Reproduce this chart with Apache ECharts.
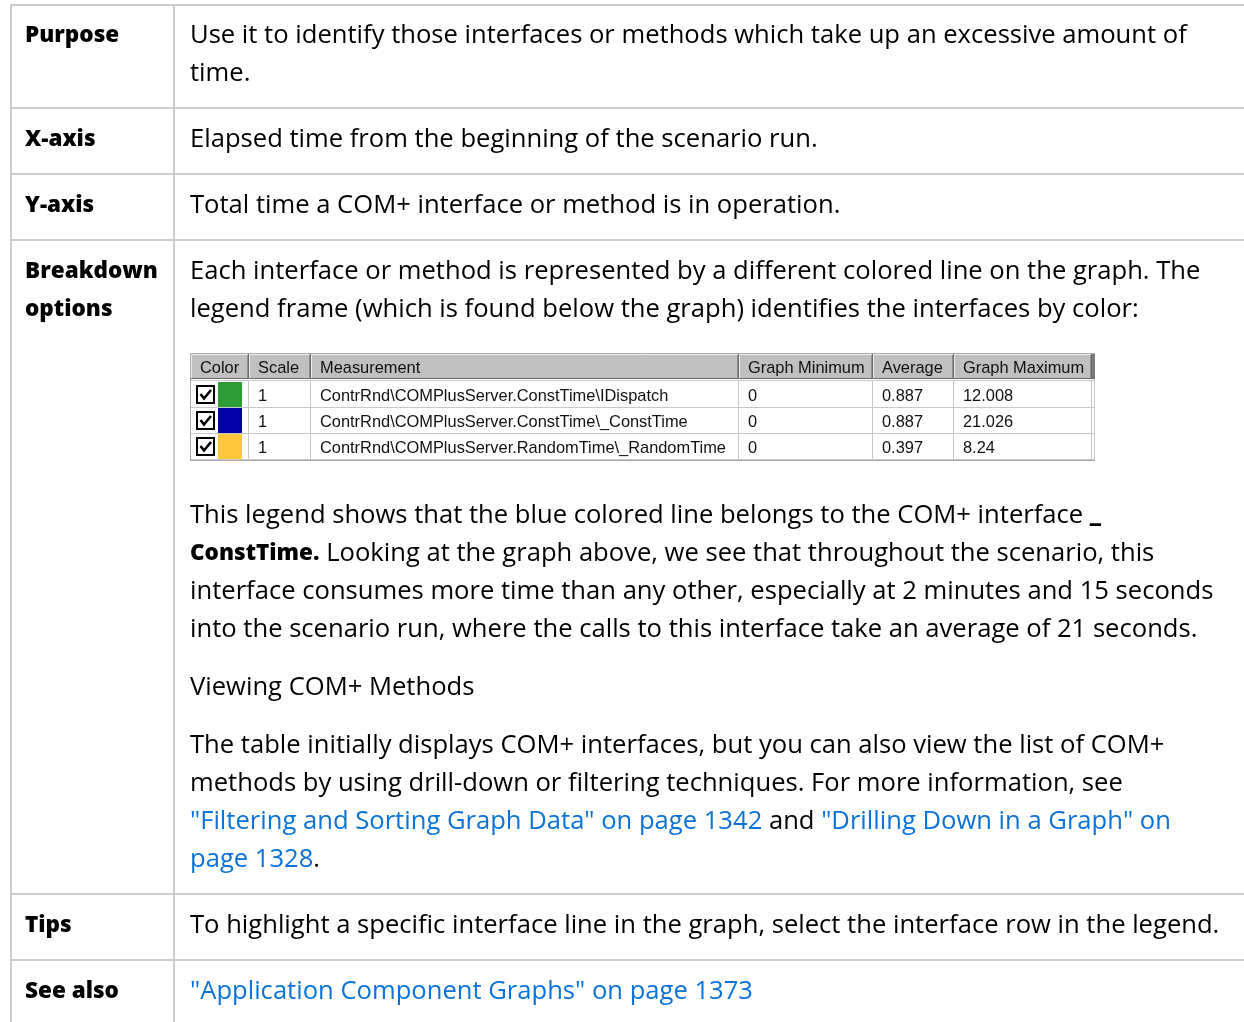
<!DOCTYPE html>
<html><head><meta charset="utf-8">
<script src="https://cdn.jsdelivr.net/npm/echarts@6/dist/echarts.min.js"></script>
<style>html,body{margin:0;padding:0;background:#fff}#c{width:1244px;height:1022px}</style>
</head><body><div id="c"></div>
<script>
// ---------------- data ----------------
const rowLabels = [['Purpose'], ['X-axis'], ['Y-axis'], ['Breakdown', 'options'], ['Tips'], ['See also']];
const legendColumns = ['Color', 'Scale', 'Measurement', 'Graph Minimum', 'Average', 'Graph Maximum'];
const measurements = [
  'ContrRnd\\COMPlusServer.ConstTime\\IDispatch',
  'ContrRnd\\COMPlusServer.ConstTime\\_ConstTime',
  'ContrRnd\\COMPlusServer.RandomTime\\_RandomTime'
];
const scales = [1, 1, 1];
const graphMinimum = [0, 0, 0];
const average = [0.887, 0.887, 0.397];
const graphMaximum = [12.008, 21.026, 8.24];
const seriesColors = ['#2e9c35', '#0000a8', '#ffc83c'];
// text lines per table row: segments [style, text]  n=normal b=bold l=link
const rowText = [
  [[['n', 'Use it to identify those interfaces or methods which take up an excessive amount of']],
   [['n', 'time.']]],
  [[['n', 'Elapsed time from the beginning of the scenario run.']]],
  [[['n', 'Total time a COM+ interface or method is in operation.']]],
  [[['n', 'Each interface or method is represented by a different colored line on the graph. The']],
   [['n', 'legend frame (which is found below the graph) identifies the interfaces by color:']],
   'LEGEND',
   [['n', 'This legend shows that the blue colored line belongs to the COM+ interface '], ['b', '_']],
   [['b', 'ConstTime.'], ['n', ' Looking at the graph above, we see that throughout the scenario, this']],
   [['n', 'interface consumes more time than any other, especially at 2 minutes and 15 seconds']],
   [['n', 'into the scenario run, where the calls to this interface take an average of 21 seconds.']],
   [['n', 'Viewing COM+ Methods']],
   [['n', 'The table initially displays COM+ interfaces, but you can also view the list of COM+']],
   [['n', 'methods by using drill-down or filtering techniques. For more information, see']],
   [['l', '"Filtering and Sorting Graph Data" on page 1342'], ['n', ' and '], ['l', '"Drilling Down in a Graph" on']],
   [['l', 'page 1328'], ['n', '.']]],
  [[['n', 'To highlight a specific interface line in the graph, select the interface row in the legend.']]],
  [[['l', '"Application Component Graphs" on page 1373']]]
];

// ---------------- layout ----------------
const rowTops = [5, 108, 174, 240, 894, 960];
const TY = 2; // vertical text nudge
const lineYs = [
  [34, 72], [138], [204],
  [270, 308, null, 514, 552, 590, 628, 686, 744, 782, 820, 858],
  [924], [990]
];
const labelLineYs = [[34], [138], [204], [270, 308], [924], [990]];
const colX = [191, 249, 311, 739, 873, 954, 1092];
const hdrTop = 354, hdrH = 25, rowTop0 = 382, rowH = 26;

function fit(text, weight, family, target) {
  const c = document.createElement('canvas').getContext('2d');
  c.font = weight + ' 100px ' + family;
  return Math.round(1000 * target / c.measureText(text).width) / 10;
}
const MAIN = '"Open Sans"';
const mainSize = fit('To highlight a specific interface line in the graph, select the interface row in the legend.', 'normal', MAIN, 1031);
const boldSize = fit('Breakdown', '800', MAIN, 133);
const LEG = '"Liberation Sans"';
const legSize = fit(measurements[2], 'normal', LEG, 406);

const els = [];
const grid = '#cccccc';
// outer table lines
rowTops.forEach(y => els.push({type: 'line', shape: {x1: 10, y1: y, x2: 1244, y2: y}, style: {stroke: grid, lineWidth: 2}}));
els.push({type: 'line', shape: {x1: 11, y1: 4, x2: 11, y2: 1022}, style: {stroke: grid, lineWidth: 2}});
els.push({type: 'line', shape: {x1: 174, y1: 4, x2: 174, y2: 1022}, style: {stroke: grid, lineWidth: 2}});

// labels
rowLabels.forEach((lines, i) => lines.forEach((t, j) => els.push({
  type: 'text', x: 25, y: labelLineYs[i][j] + TY,
  style: {text: t, fontFamily: MAIN, fontWeight: 800, fontSize: boldSize, fill: '#000', verticalAlign: 'middle'}
})));

const rich = {
  n: {fontFamily: MAIN, fontSize: mainSize, fill: '#000', color: '#000'},
  b: {fontFamily: MAIN, fontSize: boldSize, fontWeight: 800, fill: '#000', color: '#000'},
  l: {fontFamily: MAIN, fontSize: mainSize, fill: '#0a72d8', color: '#0a72d8'}
};
rowText.forEach((lines, i) => lines.forEach((segs, j) => {
  if (segs === 'LEGEND') return;
  els.push({
    type: 'text', x: 190, y: lineYs[i][j] + TY,
    style: {text: segs.map(s => '{' + s[0] + '|' + s[1] + '}').join(''), rich: rich, verticalAlign: 'middle',
      fontFamily: MAIN, fontSize: mainSize}
  });
}));

// legend frame
const legL = colX[0], legR = colX[colX.length - 1];
const legB = rowTop0 + rowH * measurements.length;
els.push({type: 'rect', shape: {x: legL - 0.5, y: hdrTop - 0.5, width: legR - legL + 3, height: legB - hdrTop + 1},
  style: {fill: '#fff', stroke: '#a8a8a8', lineWidth: 1}});
// header
legendColumns.forEach((c, k) => {
  const x0 = colX[k], x1 = colX[k + 1];
  els.push({type: 'rect', shape: {x: x0, y: hdrTop, width: x1 - x0, height: hdrH}, style: {fill: '#c0c0c0'}});
  els.push({type: 'polyline', shape: {points: [[x0 + 0.5, hdrTop + hdrH], [x0 + 0.5, hdrTop + 0.5], [x1, hdrTop + 0.5]]}, style: {stroke: '#eeeeee', lineWidth: 1, fill: null}});
  els.push({type: 'line', shape: {x1: x1 - 0.5, y1: hdrTop, x2: x1 - 0.5, y2: hdrTop + hdrH}, style: {stroke: '#6a6a6a', lineWidth: 1}});
  els.push({type: 'line', shape: {x1: x1 - 1.5, y1: hdrTop + 1, x2: x1 - 1.5, y2: hdrTop + hdrH - 1}, style: {stroke: '#909090', lineWidth: 1}});
  els.push({type: 'text', x: x0 + 9, y: hdrTop + hdrH / 2 + 2,
    style: {text: c, fontFamily: LEG, fontSize: legSize, fill: '#111', verticalAlign: 'middle'}});
});
els.push({type: 'rect', shape: {x: legR, y: hdrTop, width: 3, height: hdrH}, style: {fill: '#7a7a7a'}});
els.push({type: 'line', shape: {x1: legL, y1: hdrTop + hdrH - 0.5, x2: legR + 3, y2: hdrTop + hdrH - 0.5}, style: {stroke: '#6a6a6a', lineWidth: 1}});
els.push({type: 'line', shape: {x1: legL, y1: hdrTop + hdrH + 1.5, x2: legR + 3, y2: hdrTop + hdrH + 1.5}, style: {stroke: '#c8c8c8', lineWidth: 1}});
// rows
measurements.forEach((m, r) => {
  const y0 = rowTop0 + r * rowH;
  els.push({type: 'line', shape: {x1: legL, y1: y0 + rowH - 0.5, x2: legR + 3, y2: y0 + rowH - 0.5}, style: {stroke: '#c8c8c8', lineWidth: 1}});
  els.push({type: 'rect', shape: {x: 197, y: y0 + 4, width: 17, height: 17}, style: {fill: '#fff', stroke: '#000', lineWidth: 2}});
  els.push({type: 'polyline', shape: {points: [[200.5, y0 + 12], [204, y0 + 16.5], [211, y0 + 8]]}, style: {stroke: '#000', lineWidth: 2.6, fill: null}});
  els.push({type: 'rect', shape: {x: 218, y: y0, width: 24, height: rowH - 1}, style: {fill: seriesColors[r]}});
  const vals = [String(scales[r]), m, String(graphMinimum[r]), String(average[r]), String(graphMaximum[r])];
  vals.forEach((v, k) => els.push({type: 'text', x: colX[k + 1] + 9, y: y0 + rowH / 2 + 1,
    style: {text: v, fontFamily: LEG, fontSize: legSize, fill: '#111', verticalAlign: 'middle'}}));
});
for (let k = 1; k < colX.length; k++) {
  els.push({type: 'line', shape: {x1: colX[k] - 0.5, y1: hdrTop + hdrH + 2, x2: colX[k] - 0.5, y2: legB}, style: {stroke: '#c8c8c8', lineWidth: 1}});
}
els.push({type: 'line', shape: {x1: legR + 2.5, y1: hdrTop + hdrH, x2: legR + 2.5, y2: legB}, style: {stroke: '#c8c8c8', lineWidth: 1}});

const chart = echarts.init(document.getElementById('c'), null, {renderer: 'canvas'});
chart.setOption({animation: false, backgroundColor: '#fff', graphic: {elements: els}});
</script></body></html>
